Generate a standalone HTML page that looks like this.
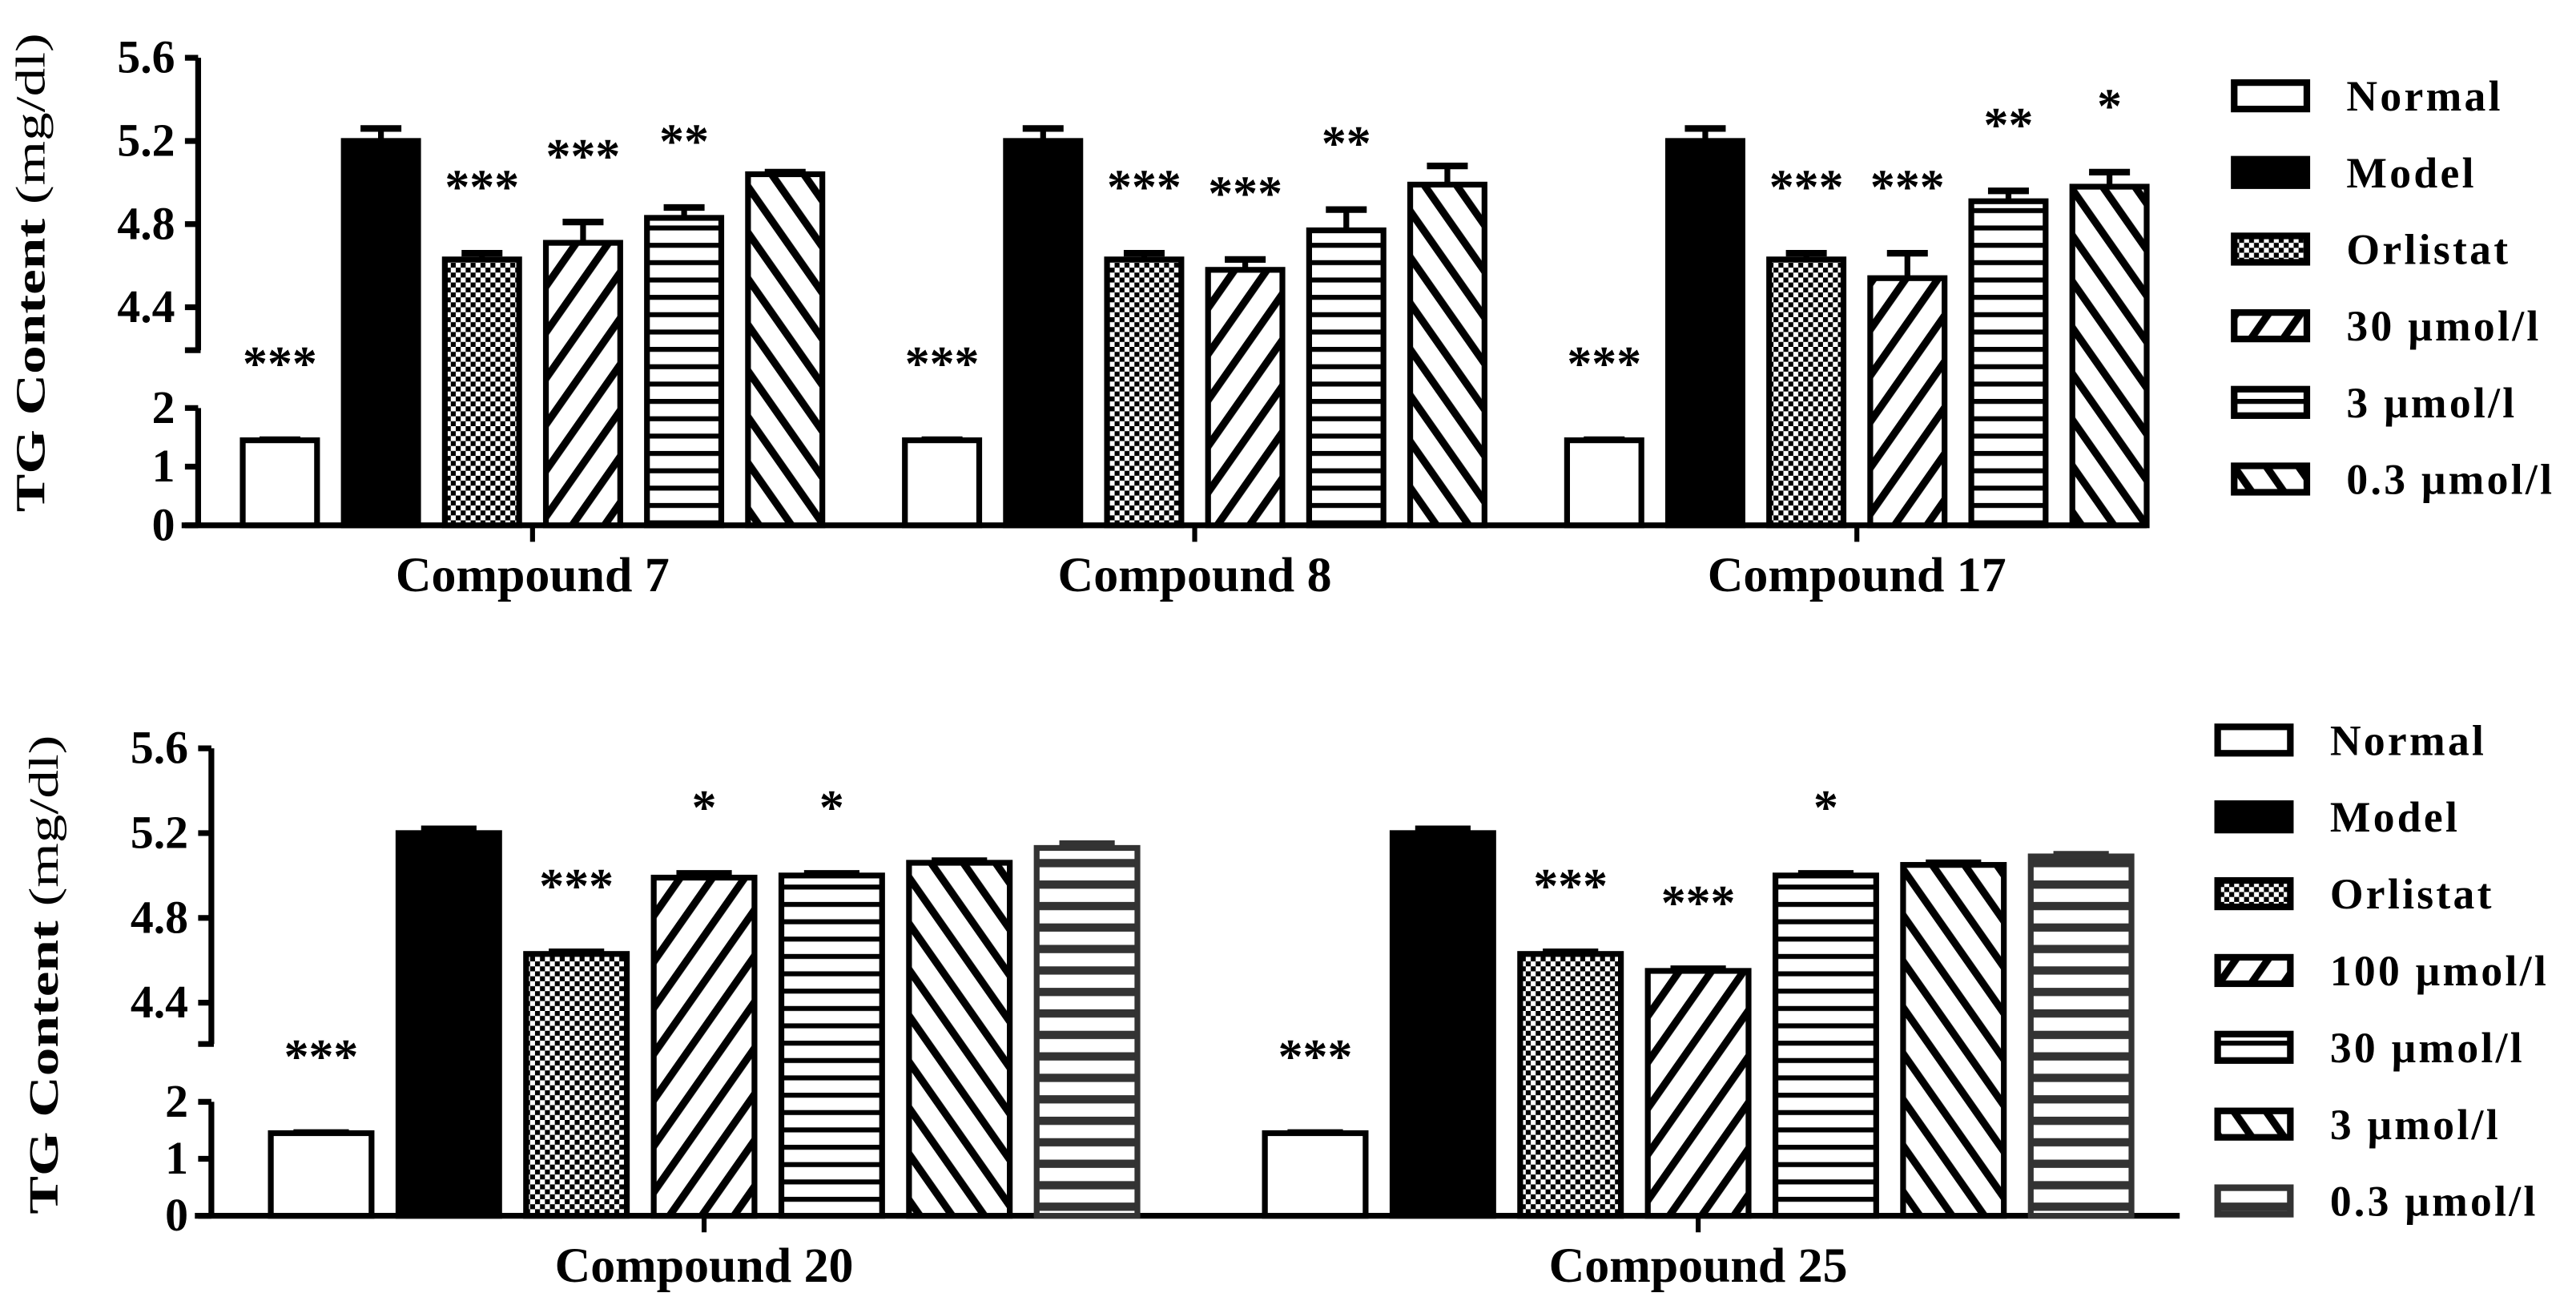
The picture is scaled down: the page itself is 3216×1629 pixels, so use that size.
<!DOCTYPE html>
<html><head><meta charset="utf-8"><style>
html,body{margin:0;padding:0;background:#fff;}
svg{display:block;}
text{font-family:"Liberation Serif",serif;font-weight:bold;fill:#000;}
</style></head><body>
<svg id="chart" width="3216" height="1629" viewBox="0 0 1560 790" preserveAspectRatio="none" xmlns="http://www.w3.org/2000/svg">
<defs>
<pattern id="p-check" patternUnits="userSpaceOnUse" width="6" height="6"><rect width="6" height="6" fill="#fff"/><rect width="3" height="3" fill="#000"/><rect x="3" y="3" width="3" height="3" fill="#000"/></pattern>
<pattern id="p-fwd" patternUnits="userSpaceOnUse" width="16" height="16" patternTransform="rotate(35)"><rect width="16" height="16" fill="#fff"/><rect width="4.5" height="16" fill="#000"/></pattern>
<pattern id="p-back" patternUnits="userSpaceOnUse" width="16" height="16" patternTransform="rotate(-35)"><rect width="16" height="16" fill="#fff"/><rect width="4.5" height="16" fill="#000"/></pattern>
<pattern id="p-hor" patternUnits="userSpaceOnUse" width="10" height="10.5"><rect width="10" height="10.5" fill="#fff"/><rect width="10" height="3" fill="#000"/></pattern>
<pattern id="p-hor2" patternUnits="userSpaceOnUse" width="10" height="13"><rect width="10" height="13" fill="#fff"/><rect width="10" height="5" fill="#333"/></pattern>
</defs>
<g id="g"></g>
</svg>
<script>
// ---- data ----
const topGroups = ["Compound 7", "Compound 8", "Compound 17"];
const topSeries = ["Normal", "Model", "Orlistat", "30 μmol/l", "3 μmol/l", "0.3 μmol/l"];
const topValues = [
  [1.45, 5.20, 4.63, 4.71, 4.83, 5.04],
  [1.45, 5.20, 4.63, 4.58, 4.77, 4.99],
  [1.45, 5.20, 4.63, 4.54, 4.91, 4.98]
];
const topErrors = [
  [0.01, 0.06, 0.03, 0.10, 0.05, 0.01],
  [0.01, 0.06, 0.03, 0.05, 0.10, 0.09],
  [0.01, 0.06, 0.03, 0.12, 0.05, 0.07]
];
const topStars = [
  ["***", "", "***", "***", "**", ""],
  ["***", "", "***", "***", "**", ""],
  ["***", "", "***", "***", "**", "*"]
];
const botGroups = ["Compound 20", "Compound 25"];
const botSeries = ["Normal", "Model", "Orlistat", "100 μmol/l", "30 μmol/l", "3 μmol/l", "0.3 μmol/l"];
const botValues = [
  [1.45, 5.20, 4.63, 4.99, 5.00, 5.06, 5.13],
  [1.45, 5.20, 4.63, 4.55, 5.00, 5.05, 5.09]
];
const botErrors = [
  [0.01, 0.02, 0.01, 0.02, 0.01, 0.01, 0.02],
  [0.01, 0.02, 0.01, 0.01, 0.01, 0.01, 0.01]
];
const botStars = [
  ["***", "", "***", "*", "*", "", ""],
  ["***", "", "***", "***", "*", "", ""]
];
const upperTicks = [4.4, 4.8, 5.2, 5.6];
const lowerTicks = [0, 1, 2];
const topFills = ["#fff", "#000", "url(#p-check)", "url(#p-fwd)", "url(#p-hor)", "url(#p-back)"];
const botFills = ["#fff", "#000", "url(#p-check)", "url(#p-fwd)", "url(#p-hor)", "url(#p-back)", "url(#p-hor2)"];

const NS = "http://www.w3.org/2000/svg";
const G = document.getElementById("g");
function el(tag, attrs, parent) {
  const e = document.createElementNS(NS, tag);
  for (const k in attrs) e.setAttribute(k, attrs[k]);
  (parent || G).appendChild(e);
  return e;
}

function makeScale(y0, y2, y44, y56) {
  return function (v) {
    if (v <= 2.5) return y0 + (y2 - y0) * v / 2;
    return y44 + (y56 - y44) * (v - 4.4) / 1.2;
  };
}

function panel(cfg) {
  const y = makeScale(cfg.y0, cfg.y2, cfg.y44, cfg.y56);
  const ax = cfg.axisX;
  let a = el("line", {x1: ax, y1: cfg.y56, x2: ax, y2: cfg.yBreak, stroke: "#000", "stroke-width": 3.5});
  
  
  el("line", {x1: ax - 8, y1: cfg.yBreak, x2: ax + 1.5, y2: cfg.yBreak, stroke: "#000", "stroke-width": 3.5});
  a = el("line", {x1: ax, y1: y(2), x2: ax, y2: cfg.y0, stroke: "#000", "stroke-width": 3.5});
  
  
  upperTicks.concat(lowerTicks).forEach(t => {
    el("line", {x1: ax - 8, y1: y(t), x2: ax, y2: y(t), stroke: "#000", "stroke-width": 3.5});
    const tx = el("text", {x: ax - 14, y: y(t) + 9, "text-anchor": "end", "font-size": 28});
    tx.textContent = t < 3 ? String(t) : t.toFixed(1);
    
    
  });
  const yt = el("text", {x: 0, y: 0, "text-anchor": "middle", "font-size": 25, textLength: cfg.titleLen, lengthAdjust: "spacingAndGlyphs", transform: `translate(${cfg.titleX},${cfg.titleY}) rotate(-90)`});
  yt.innerHTML = 'TG Content <tspan font-weight="normal">(mg/dl)</tspan>';
  
  
  a = el("line", {x1: ax - 10, y1: cfg.y0, x2: cfg.axisEnd, y2: cfg.y0, stroke: "#000", "stroke-width": 3.5});
  
  
  cfg.groups.forEach((gname, gi) => {
    const gx = cfg.groupStart + gi * cfg.groupPitch;
    const center = gx + (cfg.series.length * cfg.pitch - (cfg.pitch - cfg.barW)) / 2;
    el("line", {x1: center, y1: cfg.y0, x2: center, y2: cfg.y0 + 10, stroke: "#000", "stroke-width": 3});
    const lt = el("text", {x: center, y: cfg.y0 + 40, "text-anchor": "middle", "font-size": 30});
    lt.textContent = gname;
    
    
    cfg.values[gi].forEach((v, si) => {
      const bx = gx + si * cfg.pitch;
      const top = y(v);
      const e = cfg.errors[gi][si];
      const ey = y(v + e);
      const cx = bx + cfg.barW / 2;
      const ew = cfg.barW * 0.55;
      const eb = el("line", {x1: cx, y1: top, x2: cx, y2: ey, stroke: cfg.fillsStroke[si], "stroke-width": 3.5});
      
      
      el("line", {x1: cx - ew / 2, y1: ey, x2: cx + ew / 2, y2: ey, stroke: cfg.fillsStroke[si], "stroke-width": 4});
      const r = el("rect", {x: bx, y: top, width: cfg.barW, height: cfg.y0 - top, fill: cfg.fills[si], stroke: cfg.fillsStroke[si], "stroke-width": 3.5});
      
      
      const s = cfg.stars[gi][si];
      if (s) {
        const off = si === 0 ? 36 : 30;
        const st = el("text", {x: cx, y: ey - off, "text-anchor": "middle", "font-size": 30});
        st.textContent = s;
        
        
      }
    });
  });
  cfg.series.forEach((name, si) => {
    const ly = cfg.legY + si * cfg.legStep;
    const lr = el("rect", {x: cfg.legX, y: ly - 8, width: 44, height: 16, fill: cfg.fills[si], stroke: cfg.fillsStroke[si], "stroke-width": 4});
    
    
    const lt = el("text", {x: cfg.legX + 68, y: ly + 9, "font-size": 26, "letter-spacing": 1.6});
    lt.textContent = name;
    
    
  });
}

panel({
  y0: 318, y2: 247, y44: 186, y56: 35, yBreak: 212, axisX: 120, axisEnd: 1300, titleX: 27, titleY: 165, titleLen: 290,
  groups: topGroups, series: topSeries, values: topValues, errors: topErrors, stars: topStars,
  groupStart: 147, groupPitch: 401, pitch: 61.2, barW: 45,
  fills: topFills, fillsStroke: ["#000", "#000", "#000", "#000", "#000", "#000"],
  legX: 1353, legY: 58, legStep: 46.4
});
panel({
  y0: 736, y2: 667, y44: 607, y56: 453, yBreak: 632, axisX: 128, axisEnd: 1320, titleX: 35, titleY: 590, titleLen: 290,
  groups: botGroups, series: botSeries, values: botValues, errors: botErrors, stars: botStars,
  groupStart: 164, groupPitch: 602, pitch: 77.3, barW: 61,
  fills: botFills, fillsStroke: ["#000", "#000", "#000", "#000", "#000", "#000", "#333"],
  legX: 1343, legY: 448, legStep: 46.5
});
</script>
</body></html>
